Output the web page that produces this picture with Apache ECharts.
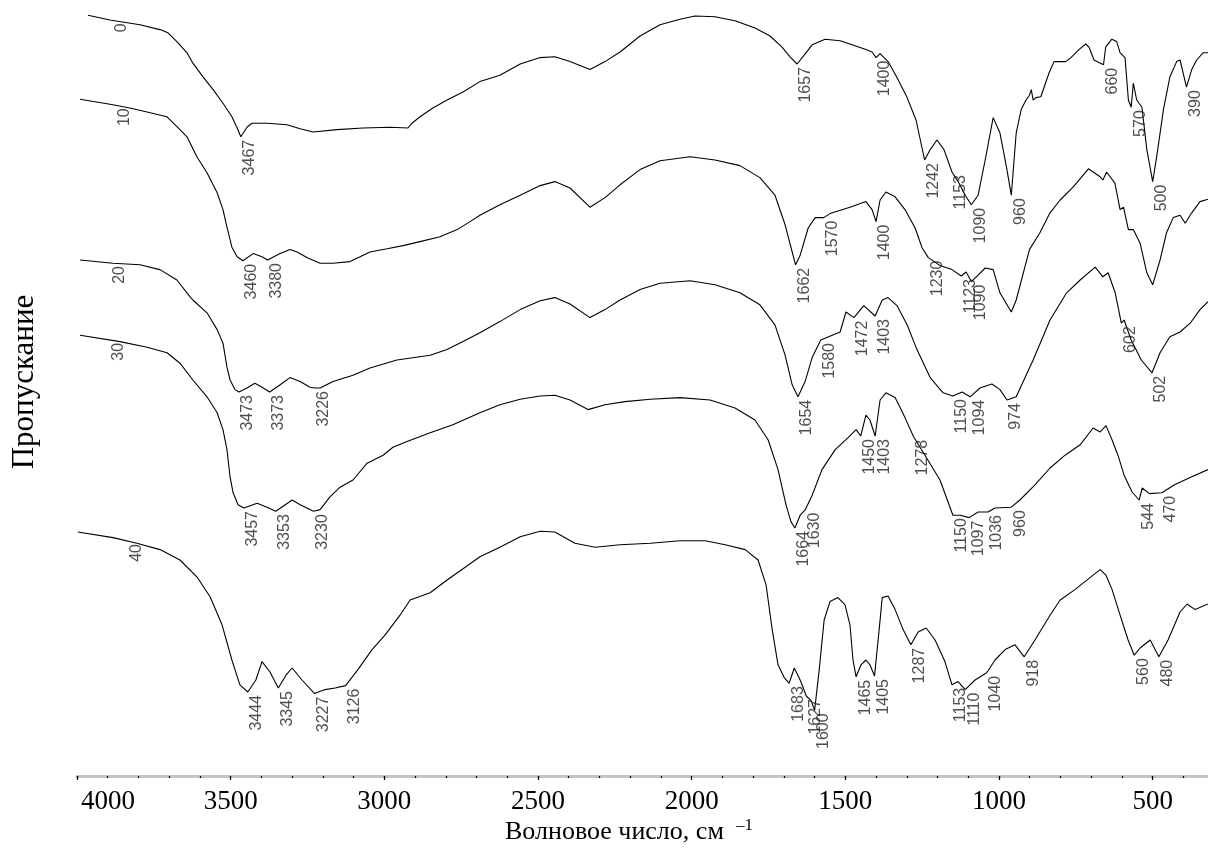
<!DOCTYPE html>
<html><head><meta charset="utf-8">
<script src="https://cdn.jsdelivr.net/npm/echarts@6/dist/echarts.min.js"></script>
<style>html,body{margin:0;padding:0;background:#fff}#c{width:1208px;height:848px}</style>
</head><body><div id="c"></div>
<script>
// Tick labels / ticks (wavenumber, cm^-1)
const majorTicks = [4000, 3500, 3000, 2500, 2000, 1500, 1000, 500];
const minorTicks = [4000,3900,3800,3700,3600,3500,3400,3300,3200,3100,3000,2900,2800,2700,2600,2500,2400,2300,2200,2100,2000,1900,1800,1700,1600,1500,1400,1300,1200,1100,1000,900,800,700,600,500,400];

// Sample names
const sampleNames = ['0', '10', '20', '30', '40'];
const sampleNameAt = [3885, 3875, 3890, 3895, 3835];

// Spectra: [wavenumber, offset transmittance]
const spec0 = [[3964,95.1],[3893,94.5],[3795,93.9],[3730,93.3],[3704,92.9],[3675,91.8],[3642,90.4],[3623,89.1],[3590,87.4],[3557,85.8],[3525,84.1],[3496,82.4],[3479,81.0],[3467,79.9],[3447,81.1],[3431,81.6],[3382,81.6],[3317,81.4],[3274,80.9],[3232,80.5],[3154,80.8],[3069,81.0],[2981,81.1],[2923,81.0],[2910,81.6],[2884,82.4],[2842,83.5],[2796,84.5],[2744,85.5],[2689,86.8],[2624,87.6],[2558,89.0],[2493,89.8],[2445,89.9],[2396,89.3],[2331,88.3],[2282,89.3],[2233,90.5],[2168,92.5],[2103,93.9],[2038,94.6],[1989,95.0],[1924,94.9],[1859,94.4],[1794,93.5],[1745,92.5],[1706,91.1],[1680,89.9],[1657,89.0],[1634,90.1],[1608,91.4],[1566,92.1],[1517,91.9],[1478,91.4],[1433,90.8],[1413,90.5],[1400,89.8],[1387,90.3],[1361,89.3],[1332,87.3],[1299,84.8],[1270,82.0],[1242,77.0],[1224,78.3],[1202,79.5],[1179,78.3],[1153,75.5],[1133,74.3],[1110,72.6],[1090,71.4],[1068,72.6],[1045,77.0],[1019,82.3],[997,80.4],[977,76.4],[960,72.6],[944,80.4],[928,83.3],[912,84.5],[901,85.1],[895,85.8],[889,84.5],[880,84.8],[864,84.9],[837,87.9],[821,89.3],[783,89.3],[766,89.8],[740,90.8],[718,91.5],[707,91.1],[691,89.5],[660,88.9],[653,91.1],[633,92.1],[617,91.8],[606,90.4],[590,89.8],[579,84.5],[570,83.6],[563,86.6],[552,84.5],[535,83.6],[519,78.3],[500,74.3],[487,77.4],[465,83.3],[444,87.4],[422,89.3],[411,89.5],[390,86.1],[373,88.3],[357,89.5],[336,90.4],[320,90.4]];
const spec10 = [[3990,84.6],[3883,83.9],[3828,83.5],[3772,83.0],[3707,82.4],[3665,80.8],[3642,79.9],[3610,77.4],[3577,75.4],[3544,72.9],[3525,70.8],[3512,68.6],[3496,66.1],[3479,64.9],[3460,64.4],[3427,65.3],[3398,64.9],[3380,64.5],[3339,65.3],[3307,65.8],[3284,65.5],[3252,64.8],[3209,64.1],[3167,64.1],[3112,64.3],[3079,64.9],[3047,65.5],[2991,65.9],[2939,66.3],[2884,66.8],[2819,67.4],[2763,68.3],[2721,69.3],[2689,70.1],[2624,71.4],[2558,72.6],[2493,73.8],[2445,74.3],[2396,73.5],[2331,71.1],[2282,72.3],[2233,73.9],[2168,75.8],[2103,76.9],[2005,77.4],[1924,77.0],[1843,76.3],[1778,74.8],[1729,72.6],[1696,68.9],[1673,65.5],[1662,63.9],[1647,65.1],[1621,68.5],[1598,69.8],[1570,69.8],[1550,70.3],[1485,71.1],[1433,71.8],[1413,70.8],[1400,69.3],[1387,72.0],[1368,73.0],[1338,72.4],[1306,70.8],[1273,68.5],[1250,66.0],[1230,64.8],[1192,63.8],[1153,63.3],[1123,62.5],[1107,63.0],[1090,61.8],[1068,62.6],[1045,63.5],[1019,63.3],[997,60.4],[960,58.0],[944,59.5],[901,65.8],[867,67.9],[834,70.4],[801,72.0],[759,73.6],[709,75.9],[671,74.9],[662,74.5],[650,75.5],[623,74.1],[606,70.8],[595,71.1],[579,68.3],[563,68.3],[541,66.6],[519,62.9],[500,61.4],[476,64.5],[455,67.9],[433,69.8],[411,70.1],[394,69.1],[373,70.4],[346,71.8],[320,72.1]];
const spec20 = [[3990,64.5],[3883,64.1],[3795,63.9],[3730,63.3],[3675,62.0],[3632,59.9],[3623,59.5],[3577,57.9],[3544,55.8],[3525,54.1],[3512,51.1],[3502,49.5],[3486,48.3],[3473,48.0],[3447,48.5],[3421,49.1],[3398,48.6],[3373,48.0],[3339,48.9],[3307,49.8],[3274,49.3],[3242,48.6],[3226,48.5],[3209,48.5],[3167,49.3],[3102,50.1],[3047,51.0],[2959,52.0],[2851,52.6],[2796,53.3],[2744,54.3],[2689,55.4],[2624,56.8],[2558,58.3],[2493,59.4],[2445,59.8],[2396,59.0],[2331,57.3],[2282,58.3],[2233,59.5],[2168,60.8],[2103,61.6],[2005,61.9],[1924,61.4],[1843,60.4],[1778,58.9],[1729,56.4],[1696,52.6],[1673,48.9],[1654,47.4],[1631,49.3],[1608,52.3],[1580,54.5],[1517,55.5],[1498,58.0],[1472,57.3],[1440,58.8],[1403,57.5],[1380,59.5],[1361,59.8],[1332,58.8],[1299,56.4],[1267,53.3],[1224,49.8],[1182,47.9],[1150,47.5],[1120,48.0],[1094,47.4],[1062,48.5],[1023,49.0],[997,48.3],[974,47.0],[944,47.4],[889,52.0],[834,57.0],[780,60.4],[736,62.0],[687,63.6],[662,62.4],[645,62.9],[622,60.4],[602,56.6],[593,57.0],[570,54.5],[537,52.0],[502,50.4],[476,52.9],[444,54.9],[411,55.5],[378,56.6],[346,58.3],[320,59.3]];
const spec30 = [[3990,55.1],[3860,54.3],[3772,53.6],[3707,52.9],[3665,51.6],[3623,49.5],[3577,47.4],[3544,45.4],[3525,43.3],[3512,40.8],[3502,37.4],[3492,35.4],[3476,33.9],[3457,33.5],[3414,34.1],[3382,33.6],[3353,33.1],[3300,34.5],[3274,33.9],[3242,33.3],[3230,33.1],[3209,33.3],[3177,34.9],[3144,36.1],[3102,37.0],[3056,39.1],[3004,40.1],[2972,41.1],[2926,41.8],[2851,42.9],[2777,43.9],[2689,45.4],[2624,46.4],[2558,47.1],[2493,47.5],[2445,47.6],[2396,47.0],[2337,45.8],[2282,46.4],[2217,46.8],[2135,47.1],[2038,47.3],[1940,47.0],[1859,46.0],[1794,44.5],[1751,42.0],[1719,38.3],[1693,33.9],[1677,31.8],[1664,31.0],[1647,32.6],[1630,33.3],[1608,35.1],[1576,38.3],[1533,40.8],[1491,42.3],[1465,43.3],[1450,42.5],[1433,45.1],[1420,44.5],[1403,42.5],[1387,47.0],[1368,47.9],[1338,47.3],[1306,44.8],[1278,42.4],[1241,40.1],[1192,37.0],[1150,32.6],[1127,32.6],[1097,32.3],[1068,33.0],[1036,33.0],[1013,33.5],[960,33.6],[932,34.5],[883,36.4],[834,38.5],[785,40.1],[736,41.4],[694,43.5],[671,43.0],[652,43.8],[632,42.0],[613,40.1],[593,37.6],[567,35.5],[544,34.5],[534,36.0],[511,35.3],[470,35.4],[429,36.4],[378,37.3],[320,38.3]];
const spec40 = [[3997,30.5],[3883,29.8],[3805,29.1],[3730,28.3],[3665,27.0],[3610,24.9],[3567,22.4],[3528,18.9],[3496,14.5],[3470,11.4],[3444,10.5],[3418,12.0],[3398,14.3],[3372,13.0],[3345,11.0],[3320,12.6],[3300,13.5],[3268,12.0],[3227,10.3],[3193,10.8],[3160,11.0],[3126,11.3],[3086,13.3],[3040,15.8],[2998,17.6],[2949,20.1],[2916,22.0],[2851,22.9],[2796,24.5],[2737,26.1],[2689,27.4],[2624,28.6],[2558,29.9],[2493,30.6],[2445,30.5],[2380,29.1],[2314,28.6],[2233,28.9],[2135,29.1],[2038,29.4],[1956,29.4],[1891,28.9],[1826,28.3],[1784,27.0],[1758,23.9],[1738,18.3],[1719,13.9],[1699,12.3],[1683,11.6],[1666,13.5],[1647,12.0],[1627,10.0],[1611,9.4],[1600,8.2],[1585,13.3],[1569,19.5],[1550,21.8],[1524,22.3],[1501,21.4],[1485,18.9],[1475,14.5],[1465,12.4],[1449,13.9],[1433,14.5],[1420,13.9],[1405,12.5],[1390,18.3],[1380,22.3],[1361,22.5],[1338,20.8],[1312,18.3],[1287,16.4],[1263,18.0],[1237,18.5],[1208,17.0],[1176,14.3],[1153,11.4],[1133,11.8],[1110,10.8],[1078,12.0],[1040,12.9],[1013,14.5],[980,15.8],[948,16.4],[918,14.9],[883,17.0],[834,20.1],[801,22.0],[753,23.3],[704,24.8],[671,25.8],[652,25.1],[632,23.3],[606,20.1],[580,17.0],[560,15.1],[541,16.0],[508,17.0],[480,14.9],[450,17.0],[411,20.5],[388,21.5],[362,20.8],[320,21.5]];

// Peak annotations (cm^-1)
const peaks0 = [3467, 1657, 1400, 1242, 1153, 1090, 960, 660, 570, 500, 390];
const peaks10 = [3460, 3380, 1662, 1570, 1400, 1230, 1123, 1090];
const peaks20 = [3473, 3373, 3226, 1654, 1580, 1472, 1403, 1150, 1094, 974, 602, 502];
const peaks30 = [3457, 3353, 3230, 1664, 1630, 1450, 1403, 1278, 1150, 1097, 1036, 960, 544, 470];
const peaks40 = [3444, 3345, 3227, 3126, 1683, 1627, 1600, 1465, 1405, 1287, 1153, 1110, 1040, 918, 560, 480];

const spectra = [spec0, spec10, spec20, spec30, spec40];
const peaks = [peaks0, peaks10, peaks20, peaks30, peaks40];

function valueAt(data, v) {
  for (let i = 0; i < data.length - 1; i++) {
    const a = data[i], b = data[i + 1];
    if (v <= a[0] && v >= b[0]) {
      const t = (a[0] - v) / (a[0] - b[0] || 1);
      return a[1] + (b[1] - a[1]) * t;
    }
  }
  return data[data.length - 1][1];
}

const series = [];
spectra.forEach((d, i) => {
  series.push({
    type: 'line', data: d, xAxisIndex: 0, showSymbol: false, symbol: 'none',
    lineStyle: { color: '#000', width: 1.1 }, silent: true, animation: false, z: 2
  });
  const labelData = peaks[i].map(p => ({ value: [p, valueAt(d, p)], name: String(p) }));
  labelData.push({ value: [sampleNameAt[i], valueAt(d, sampleNameAt[i])], name: sampleNames[i] });
  series.push({
    type: 'scatter', data: labelData, xAxisIndex: 0, symbolSize: 0, silent: true, animation: false, z: 3,
    label: {
      show: true, formatter: p => p.name, rotate: 90, align: 'right', verticalAlign: 'middle',
      position: [9, 3], fontFamily: 'Liberation Sans', fontSize: 16, color: '#222'
    }
  });
});

const chart = echarts.init(document.getElementById('c'), null, { renderer: 'canvas' });
chart.setOption({
  backgroundColor: '#fff',
  animation: false,
  grid: { left: 77, right: 0, top: 0, bottom: 72, containLabel: false },
  xAxis: [{
    type: 'value', min: 320, max: 4000, inverse: true, position: 'bottom',
    axisLine: { show: true, lineStyle: { color: '#c4c4c4', width: 3 } },
    axisTick: { show: true, customValues: majorTicks, length: 4, lineStyle: { color: '#000', width: 1.2 } },
    axisLabel: {
      show: true, customValues: majorTicks, fontFamily: 'Liberation Serif', fontSize: 27, color: '#000', margin: 12,
      formatter: v => (v === 4000 ? '{l|' + v + '}' : String(v)),
      rich: { l: { fontFamily: 'Liberation Serif', fontSize: 27, color: '#000', padding: [0, 0, 0, 62] } }
    },
    splitLine: { show: false }
  }, {
    type: 'value', min: 320, max: 4000, inverse: true, position: 'bottom',
    axisLine: { show: false },
    axisTick: { show: true, customValues: minorTicks, length: 2, lineStyle: { color: '#000', width: 1.2 } },
    axisLabel: { show: false }, splitLine: { show: false }
  }],
  yAxis: { type: 'value', min: 0, max: 97, show: false, splitLine: { show: false } },
  graphic: [
    { type: 'text', left: 505, top: 819, style: { text: 'Волновое число, см', font: '26px "Liberation Serif"', fill: '#000' } },
    { type: 'text', left: 736, top: 817, style: { text: '–1', font: '17px "Liberation Serif"', fill: '#000' } },
    { type: 'text', x: 25, y: 382, rotation: Math.PI / 2, style: { text: 'Пропускание', font: '31px "Liberation Serif"', fill: '#000', align: 'center', verticalAlign: 'middle' } }
  ],
  series: series
});
</script></body></html>
